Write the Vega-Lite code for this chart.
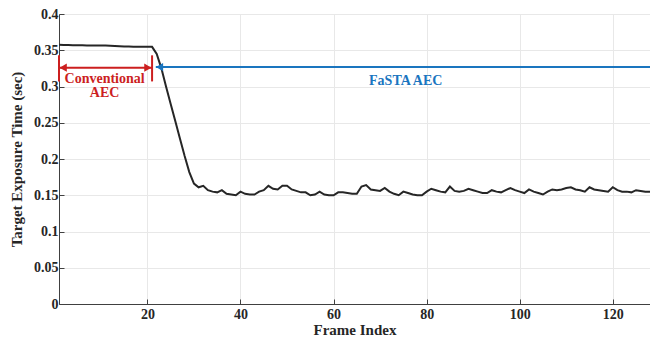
{
  "$schema": "https://vega.github.io/schema/vega-lite/v6.json",
  "width": 591,
  "height": 290,
  "autosize": "none",
  "padding": {"left": 59, "top": 14, "right": 0, "bottom": 40},
  "background": "white",
  "config": {
    "view": {"stroke": "#9a9a9a", "strokeWidth": 1},
    "font": "Liberation Serif, Times New Roman, serif",
    "axis": {
      "labelFont": "Liberation Serif, Times New Roman, serif",
      "labelFontWeight": "bold",
      "labelFontSize": 14,
      "labelColor": "#262626",
      "titleFont": "Liberation Serif, Times New Roman, serif",
      "titleFontWeight": "bold",
      "titleFontSize": 15,
      "titleColor": "#262626",
      "domainColor": "#404040",
      "tickColor": "#404040",
      "gridColor": "#e8e8e8",
      "gridOpacity": 1
    }
  },
  "datasets": {
    "series": [
      {"frame":1,"t":0.3575},{"frame":2,"t":0.3573},{"frame":3,"t":0.3572},{"frame":4,"t":0.357},{"frame":5,"t":0.357},
      {"frame":6,"t":0.3568},{"frame":7,"t":0.3567},{"frame":8,"t":0.3566},{"frame":9,"t":0.3566},{"frame":10,"t":0.3566},
      {"frame":11,"t":0.3565},{"frame":12,"t":0.3562},{"frame":13,"t":0.3558},{"frame":14,"t":0.3555},{"frame":15,"t":0.3553},
      {"frame":16,"t":0.3552},{"frame":17,"t":0.355},{"frame":18,"t":0.355},{"frame":19,"t":0.3549},{"frame":20,"t":0.3548},
      {"frame":21,"t":0.3547},{"frame":22,"t":0.345},{"frame":23,"t":0.325},{"frame":24,"t":0.3},{"frame":25,"t":0.276},
      {"frame":26,"t":0.252},{"frame":27,"t":0.228},{"frame":28,"t":0.204},{"frame":29,"t":0.182},{"frame":30,"t":0.166},
      {"frame":31,"t":0.161},{"frame":32,"t":0.163},{"frame":33,"t":0.157},{"frame":34,"t":0.155},{"frame":35,"t":0.154},
      {"frame":36,"t":0.157},{"frame":37,"t":0.152},{"frame":38,"t":0.151},{"frame":39,"t":0.15},{"frame":40,"t":0.155},
      {"frame":41,"t":0.152},{"frame":42,"t":0.151},{"frame":43,"t":0.151},{"frame":44,"t":0.155},{"frame":45,"t":0.157},
      {"frame":46,"t":0.163},{"frame":47,"t":0.159},{"frame":48,"t":0.158},{"frame":49,"t":0.163},{"frame":50,"t":0.163},
      {"frame":51,"t":0.158},{"frame":52,"t":0.156},{"frame":53,"t":0.154},{"frame":54,"t":0.154},{"frame":55,"t":0.15},
      {"frame":56,"t":0.151},{"frame":57,"t":0.155},{"frame":58,"t":0.151},{"frame":59,"t":0.15},{"frame":60,"t":0.15},
      {"frame":61,"t":0.154},{"frame":62,"t":0.154},{"frame":63,"t":0.153},{"frame":64,"t":0.152},{"frame":65,"t":0.152},
      {"frame":66,"t":0.162},{"frame":67,"t":0.164},{"frame":68,"t":0.158},{"frame":69,"t":0.157},{"frame":70,"t":0.156},
      {"frame":71,"t":0.16},{"frame":72,"t":0.155},{"frame":73,"t":0.152},{"frame":74,"t":0.15},{"frame":75,"t":0.155},
      {"frame":76,"t":0.153},{"frame":77,"t":0.151},{"frame":78,"t":0.15},{"frame":79,"t":0.15},{"frame":80,"t":0.155},
      {"frame":81,"t":0.159},{"frame":82,"t":0.157},{"frame":83,"t":0.155},{"frame":84,"t":0.154},{"frame":85,"t":0.162},
      {"frame":86,"t":0.156},{"frame":87,"t":0.155},{"frame":88,"t":0.156},{"frame":89,"t":0.159},{"frame":90,"t":0.157},
      {"frame":91,"t":0.155},{"frame":92,"t":0.153},{"frame":93,"t":0.153},{"frame":94,"t":0.157},{"frame":95,"t":0.155},
      {"frame":96,"t":0.154},{"frame":97,"t":0.157},{"frame":98,"t":0.16},{"frame":99,"t":0.157},{"frame":100,"t":0.155},
      {"frame":101,"t":0.153},{"frame":102,"t":0.158},{"frame":103,"t":0.155},{"frame":104,"t":0.153},{"frame":105,"t":0.151},
      {"frame":106,"t":0.155},{"frame":107,"t":0.158},{"frame":108,"t":0.157},{"frame":109,"t":0.158},{"frame":110,"t":0.16},
      {"frame":111,"t":0.161},{"frame":112,"t":0.158},{"frame":113,"t":0.157},{"frame":114,"t":0.155},{"frame":115,"t":0.161},
      {"frame":116,"t":0.158},{"frame":117,"t":0.157},{"frame":118,"t":0.156},{"frame":119,"t":0.155},{"frame":120,"t":0.161},
      {"frame":121,"t":0.157},{"frame":122,"t":0.155},{"frame":123,"t":0.155},{"frame":124,"t":0.154},{"frame":125,"t":0.157},
      {"frame":126,"t":0.156},{"frame":127,"t":0.155},{"frame":128,"t":0.155}
    ],
    "convSpan": [{"x": 1, "x2": 21, "y": 0.326}],
    "convBars": [{"x": 1, "y": 0.307, "y2": 0.343}, {"x": 21, "y": 0.307, "y2": 0.343}],
    "convHeads": [{"x": 1.9, "y": 0.326, "dir": "left"}, {"x": 20.1, "y": 0.326, "dir": "right"}],
    "fastaSpan": [{"x": 21.8, "x2": 128, "y": 0.3268}],
    "fastaHead": [{"x": 22.6, "y": 0.3268}],
    "convText": [{"x": 10.8, "y": 0.3107, "label": "Conventional"}, {"x": 10.8, "y": 0.2907, "label": "AEC"}],
    "fastaText": [{"x": 75.5, "y": 0.308, "label": "FaSTA AEC"}]
  },
  "encoding": {
    "x": {
      "field": "frame", "type": "quantitative",
      "scale": {"domain": [1, 128], "nice": false, "zero": false},
      "axis": {"title": "Frame Index", "values": [20, 40, 60, 80, 100, 120], "tickSize": -5, "labelPadding": 8, "titlePadding": 1, "labelFont": "Liberation Serif", "titleFont": "Liberation Serif"}
    },
    "y": {
      "field": "t", "type": "quantitative",
      "scale": {"domain": [0, 0.4], "nice": false},
      "axis": {"title": "Target Exposure Time (sec)", "values": [0, 0.05, 0.1, 0.15, 0.2, 0.25, 0.3, 0.35, 0.4], "format": ".2~f", "tickSize": -5, "labelPadding": 6, "titlePadding": 9, "titleFontSize": 15, "labelFont": "Liberation Serif", "titleFont": "Liberation Serif"}
    }
  },
  "layer": [
    {
      "data": {"name": "series"},
      "mark": {"type": "line", "color": "#262626", "strokeWidth": 2}
    },
    {
      "data": {"name": "convSpan"},
      "mark": {"type": "rule", "color": "#cc1f1f", "strokeWidth": 2},
      "encoding": {"x": {"field": "x", "type": "quantitative"}, "x2": {"field": "x2"}, "y": {"field": "y", "type": "quantitative"}}
    },
    {
      "data": {"name": "convBars"},
      "mark": {"type": "rule", "color": "#cc1f1f", "strokeWidth": 2},
      "encoding": {"x": {"field": "x", "type": "quantitative"}, "y": {"field": "y", "type": "quantitative"}, "y2": {"field": "y2"}}
    },
    {
      "data": {"name": "convHeads"},
      "mark": {"type": "point", "filled": true, "color": "#cc1f1f", "size": 70, "opacity": 1},
      "encoding": {
        "x": {"field": "x", "type": "quantitative"},
        "y": {"field": "y", "type": "quantitative"},
        "shape": {"field": "dir", "type": "nominal", "scale": {"domain": ["left", "right"], "range": ["triangle-left", "triangle-right"]}, "legend": null}
      }
    },
    {
      "data": {"name": "fastaSpan"},
      "mark": {"type": "rule", "color": "#1a75bf", "strokeWidth": 2},
      "encoding": {"x": {"field": "x", "type": "quantitative"}, "x2": {"field": "x2"}, "y": {"field": "y", "type": "quantitative"}}
    },
    {
      "data": {"name": "fastaHead"},
      "mark": {"type": "point", "filled": true, "color": "#1a75bf", "size": 70, "opacity": 1, "shape": "triangle-left"},
      "encoding": {"x": {"field": "x", "type": "quantitative"}, "y": {"field": "y", "type": "quantitative"}}
    },
    {
      "data": {"name": "convText"},
      "mark": {"type": "text", "color": "#cc1f1f", "font": "Liberation Serif", "fontWeight": "bold", "fontSize": 14, "align": "center", "baseline": "middle"},
      "encoding": {"x": {"field": "x", "type": "quantitative"}, "y": {"field": "y", "type": "quantitative"}, "text": {"field": "label"}}
    },
    {
      "data": {"name": "fastaText"},
      "mark": {"type": "text", "color": "#1a75bf", "font": "Liberation Serif", "fontWeight": "bold", "fontSize": 14, "align": "center", "baseline": "middle"},
      "encoding": {"x": {"field": "x", "type": "quantitative"}, "y": {"field": "y", "type": "quantitative"}, "text": {"field": "label"}}
    }
  ]
}
